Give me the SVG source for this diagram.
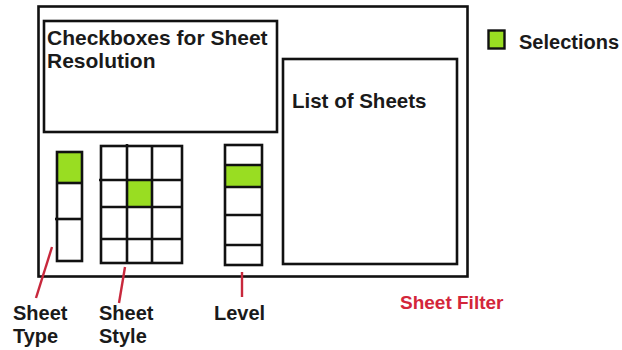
<svg xmlns="http://www.w3.org/2000/svg" width="622" height="350" viewBox="0 0 622 350">
<style>
.box{fill:none;stroke:#111;stroke-width:2.6}
.cell{fill:#fff;stroke:#111;stroke-width:2.6}
.sel{fill:#99dd22;stroke:none}
.ln{stroke:#111;stroke-width:2.6;fill:none}
.t{font-family:"Liberation Sans",Arial,sans-serif;font-weight:bold;fill:#1a1a1a}
.red{fill:#d3263a}
.con{stroke:#c8283c;stroke-width:2.4;fill:none}
</style>
<rect width="622" height="350" fill="#fff"/>
<g id="sheet-filter">
  <rect class="box" x="38.5" y="6.5" width="429" height="270"/>
  <text class="t red" x="400" y="309" font-size="19">Sheet Filter</text>
</g>
<g id="checkboxes">
  <rect class="box" x="44" y="21" width="233" height="111"/>
  <text class="t" x="47" y="45" font-size="21">Checkboxes for Sheet</text>
  <text class="t" x="47" y="68" font-size="21">Resolution</text>
</g>
<g id="list-of-sheets">
  <rect class="box" x="283" y="59" width="174" height="205"/>
  <text class="t" x="292" y="108" font-size="20.5">List of Sheets</text>
</g>
<g id="sheet-type">
  <rect class="sel" x="57" y="152" width="25" height="31"/>
  <rect class="box" x="57" y="152" width="25" height="109"/>
  <line class="ln" x1="57" y1="183" x2="82" y2="183"/>
  <line class="ln" x1="55" y1="219" x2="82" y2="219"/>
  <text class="t" x="13" y="320" font-size="20">Sheet</text>
  <text class="t" x="13" y="343" font-size="20">Type</text>
</g>
<g id="sheet-style">
  <rect class="sel" x="127" y="180" width="25" height="27"/>
  <rect class="box" x="101" y="146" width="81" height="117"/>
  <line class="ln" x1="127" y1="144" x2="127" y2="263"/>
  <line class="ln" x1="152" y1="146" x2="152" y2="263"/>
  <line class="ln" x1="99" y1="180" x2="182" y2="180"/>
  <line class="ln" x1="101" y1="207" x2="182" y2="207"/>
  <line class="ln" x1="101" y1="239" x2="182" y2="239"/>
  <text class="t" x="99" y="320" font-size="20">Sheet</text>
  <text class="t" x="99" y="343" font-size="20">Style</text>
</g>
<g id="level">
  <rect class="sel" x="225" y="166" width="37" height="21"/>
  <rect class="box" x="225" y="145" width="37" height="120"/>
  <line class="ln" x1="225" y1="165" x2="262" y2="165"/>
  <line class="ln" x1="225" y1="187" x2="262" y2="187"/>
  <line class="ln" x1="225" y1="215" x2="262" y2="215"/>
  <line class="ln" x1="225" y1="245" x2="262" y2="245"/>
  <text class="t" x="214" y="320" font-size="20">Level</text>
</g>
<g id="legend">
  <rect x="488.5" y="30.5" width="16" height="18" fill="#99dd22" stroke="#111" stroke-width="2.4"/>
  <text class="t" x="519" y="49" font-size="20">Selections</text>
</g>
<g id="connectors">
  <line class="con" x1="52" y1="247" x2="36" y2="298"/>
  <line class="con" x1="125" y1="267" x2="119" y2="303"/>
  <line class="con" x1="242" y1="272" x2="242" y2="297"/>
</g>
</svg>
